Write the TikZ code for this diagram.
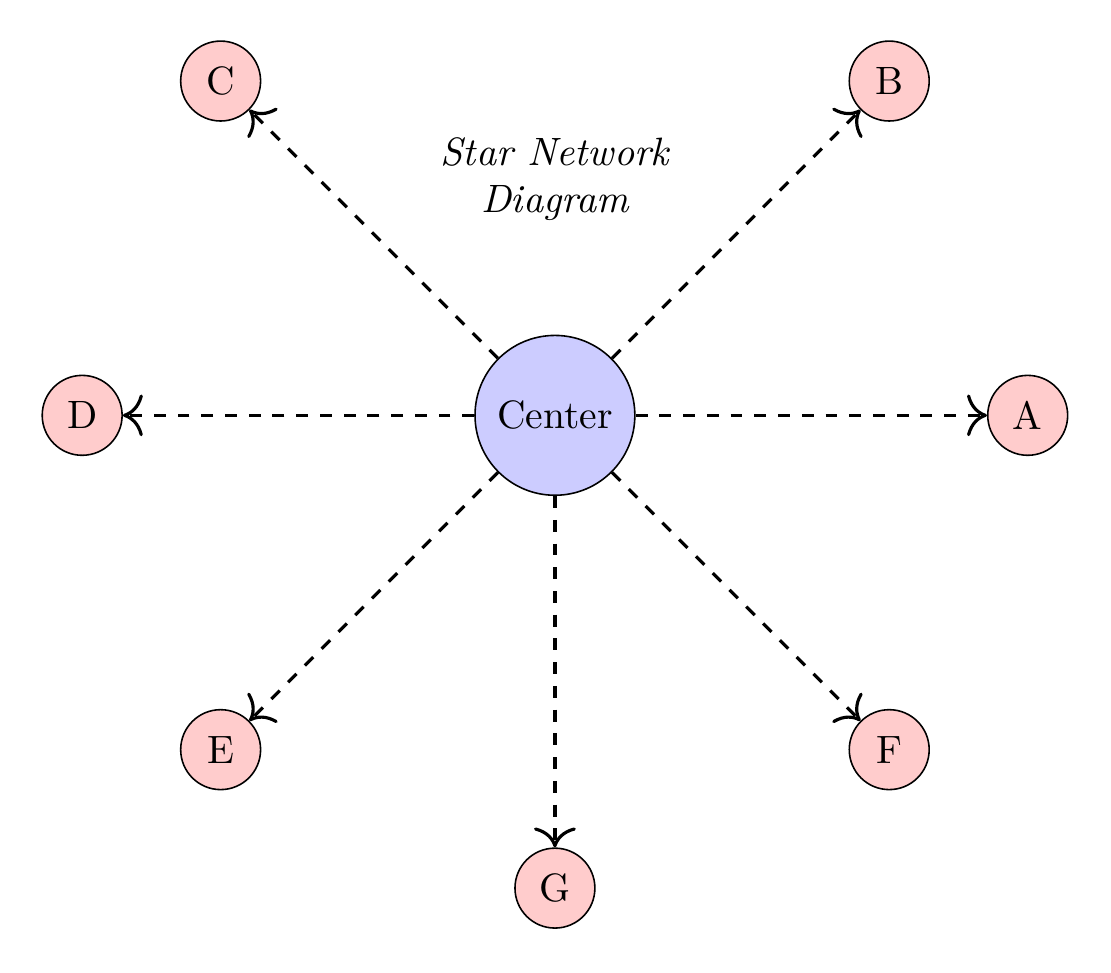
\documentclass[tikz,border=0pt]{standalone}
\usetikzlibrary{arrows.meta}
\begin{document}
\begin{tikzpicture}
\useasboundingbox (-4.93,-4.95) rectangle (4.94,3.69);
\tikzset{
  hub/.style={circle,draw,fill=blue!20,minimum size=1.42cm,inner sep=0pt},
  leaf/.style={circle,draw,fill=red!20,minimum size=0.71cm,inner sep=0pt},
  link/.style={-{To[scale=1.5]},thick,dashed}
}
\node[hub] (center) at (0,0) {Center};
\node[leaf] (A) at (0:4.2) {A};
\node[leaf] (B) at (45:4.2) {B};
\node[leaf] (C) at (135:4.2) {C};
\node[leaf] (D) at (180:4.2) {D};
\node[leaf] (E) at (225:4.2) {E};
\node[leaf] (F) at (315:4.2) {F};
\node[leaf] (G) at (270:4.2) {G};
\node[align=center,font=\itshape] (title) at (0,2.1) {Star Network\\Diagram};
\foreach \n in {A,B,C,D,E,F,G} \draw[link] (center) -- (\n);
\end{tikzpicture}
\end{document}
